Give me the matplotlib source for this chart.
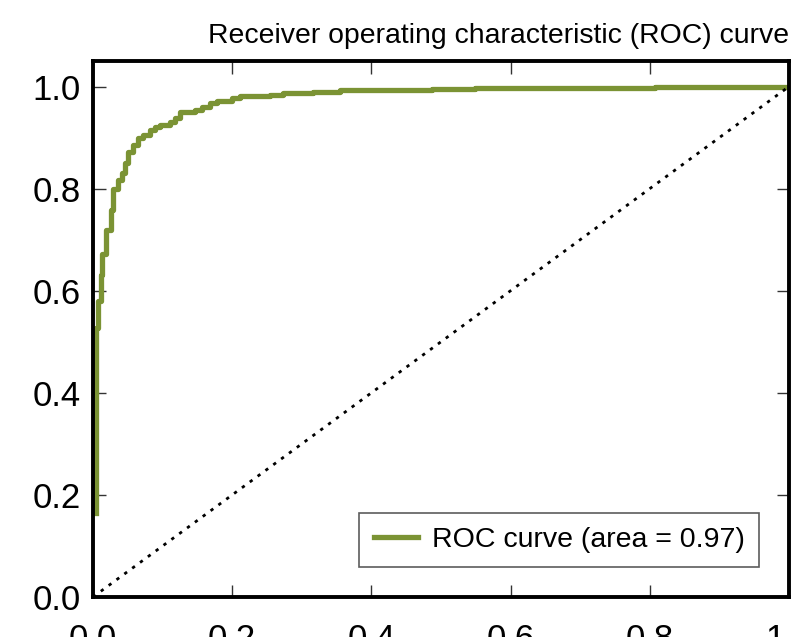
import matplotlib
matplotlib.use('Agg')
import matplotlib.pyplot as plt

# step points of the ROC curve (steps-post)
fpr = [0.004, 0.004, 0.007, 0.011, 0.013, 0.018, 0.026, 0.029, 0.036, 0.042,
       0.046, 0.050, 0.057, 0.065, 0.072, 0.082, 0.089, 0.096, 0.110, 0.118,
       0.125, 0.147, 0.157, 0.168, 0.178, 0.200, 0.211, 0.254, 0.273, 0.316,
       0.355, 0.487, 0.549, 0.808, 1.0]
tpr = [0.165, 0.527, 0.580, 0.630, 0.672, 0.719, 0.758, 0.800, 0.817, 0.830,
       0.850, 0.872, 0.885, 0.899, 0.905, 0.915, 0.921, 0.925, 0.930, 0.938,
       0.950, 0.954, 0.960, 0.967, 0.972, 0.977, 0.981, 0.983, 0.987, 0.989,
       0.993, 0.996, 0.998, 1.0, 1.0]
roc_auc = 0.97
diag = [0.0, 1.0]
ticks = [0.0, 0.2, 0.4, 0.6, 0.8, 1.0]
tick_labels = ['0.0', '0.2', '0.4', '0.6', '0.8', '1.0']

plt.rcParams['font.family'] = ['Liberation Sans', 'DejaVu Sans']

fig = plt.figure(figsize=(7.93, 6.37), dpi=100)
ax = fig.add_axes([93 / 793, 1 - 597 / 637, (789 - 93) / 793, (597 - 61) / 637])

ax.plot(fpr, tpr, drawstyle='steps-post', color='#7b9334', lw=3.8,
        label='ROC curve (area = %0.2f)' % roc_auc)
ax.plot(diag, diag, color='k', lw=2, linestyle=(0, (1.2, 2.3)))

ax.set_xlim(0.0, 1.0)
ax.set_ylim(0.0, 1.05)
ax.set_xticks(ticks)
ax.set_yticks(ticks)
ax.set_xticklabels(tick_labels)
ax.set_yticklabels(tick_labels)
ax.tick_params(direction='in', top=True, right=True, length=9, width=1,
               color='#333333', labelsize=25, pad=9)
ax.tick_params(axis='x', pad=19)
for sp in ax.spines.values():
    sp.set_linewidth(2.8)

ax.set_title('Receiver operating characteristic (ROC) curve', loc='right',
             fontsize=20.4, pad=13)
leg = ax.legend(loc='lower right', fontsize=20.5, fancybox=False,
                borderaxespad=1.05, handlelength=1.55, handletextpad=0.5,
                borderpad=0.5)
leg.get_frame().set_edgecolor('#333333')
leg.get_frame().set_linewidth(1.2)

fig.savefig('out.png', dpi=100)
